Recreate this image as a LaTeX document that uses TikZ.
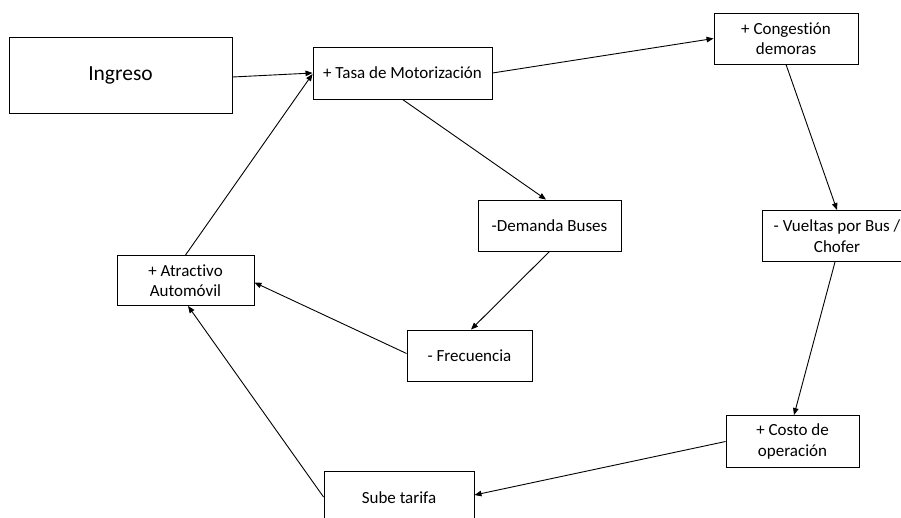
\documentclass[tikz,border=0pt]{standalone}
\usepackage{fontspec}
\setmainfont[Ligatures=NoCommon]{Carlito}
\usetikzlibrary{arrows.meta,calc}

\tikzset{
  box/.style={draw, line width=0.9pt, inner sep=0pt, align=center,
    font=\fontsize{17}{20.5}\selectfont},
  link/.style={line width=0.9pt, -{Triangle[length=7pt,width=5.5pt]}},
}

\begin{document}
\begin{tikzpicture}[x=1pt, y=-1pt]
  \useasboundingbox (0,0) rectangle (901,517);

  % boxes of the causal loop
  \node[box, minimum width=223pt, minimum height=76pt,
        font=\fontsize{21.5}{25}\selectfont] (ing) at (120.5,75) {Ingreso};
  \node[box, minimum width=179pt, minimum height=52pt] (tasa) at (402.5,73) {+ Tasa de Motorización};
  \node[box, minimum width=144pt, minimum height=51pt] (cong) at (786,38.5) {+ Congestión\\demoras};
  \node[box, minimum width=150pt, minimum height=51pt] (vuel) at (837,236) {- Vueltas por Bus /\\Chofer};
  \node[box, minimum width=143pt, minimum height=51pt] (dem) at (549.5,225.5) {-Demanda Buses};
  \node[box, minimum width=125pt, minimum height=51pt] (frec) at (469.5,355.5) {- Frecuencia};
  \node[box, minimum width=137pt, minimum height=50pt] (atr) at (185.5,280.5) {+ Atractivo\\Automóvil};
  \node[box, minimum width=133pt, minimum height=52pt] (costo) at (792.5,441.5) {+ Costo de\\operación};
  \node[box, minimum width=150pt, minimum height=54pt] (sube) at (399,498) {Sube tarifa};

  % connectors
  \draw[link] ($(ing.east)+(0,2)$) -- (tasa.west);
  \draw[link] (tasa.east) -- (cong.west);
  \draw[link] (tasa.south) -- ($(dem.north)+(-3.5,0)$);
  \draw[link] (cong.south) -- (vuel.north);
  \draw[link] (dem.south) -- ($(frec.north)+(1.5,0)$);
  \draw[link] ($(frec.west)+(0,-2)$) -- ($(atr.east)+(0,2)$);
  \draw[link] ($(vuel.south)+(-2,0)$) -- ($(costo.north)+(1.5,0)$);
  \draw[link] (costo.west) -- ($(sube.east)+(0,-3)$);
  \draw[link] ($(sube.west)+(0,-1)$) -- ($(atr.south)+(2.5,0)$);
  \draw[link] (atr.north) -- ($(tasa.west)+(0,1)$);
\end{tikzpicture}
\end{document}
